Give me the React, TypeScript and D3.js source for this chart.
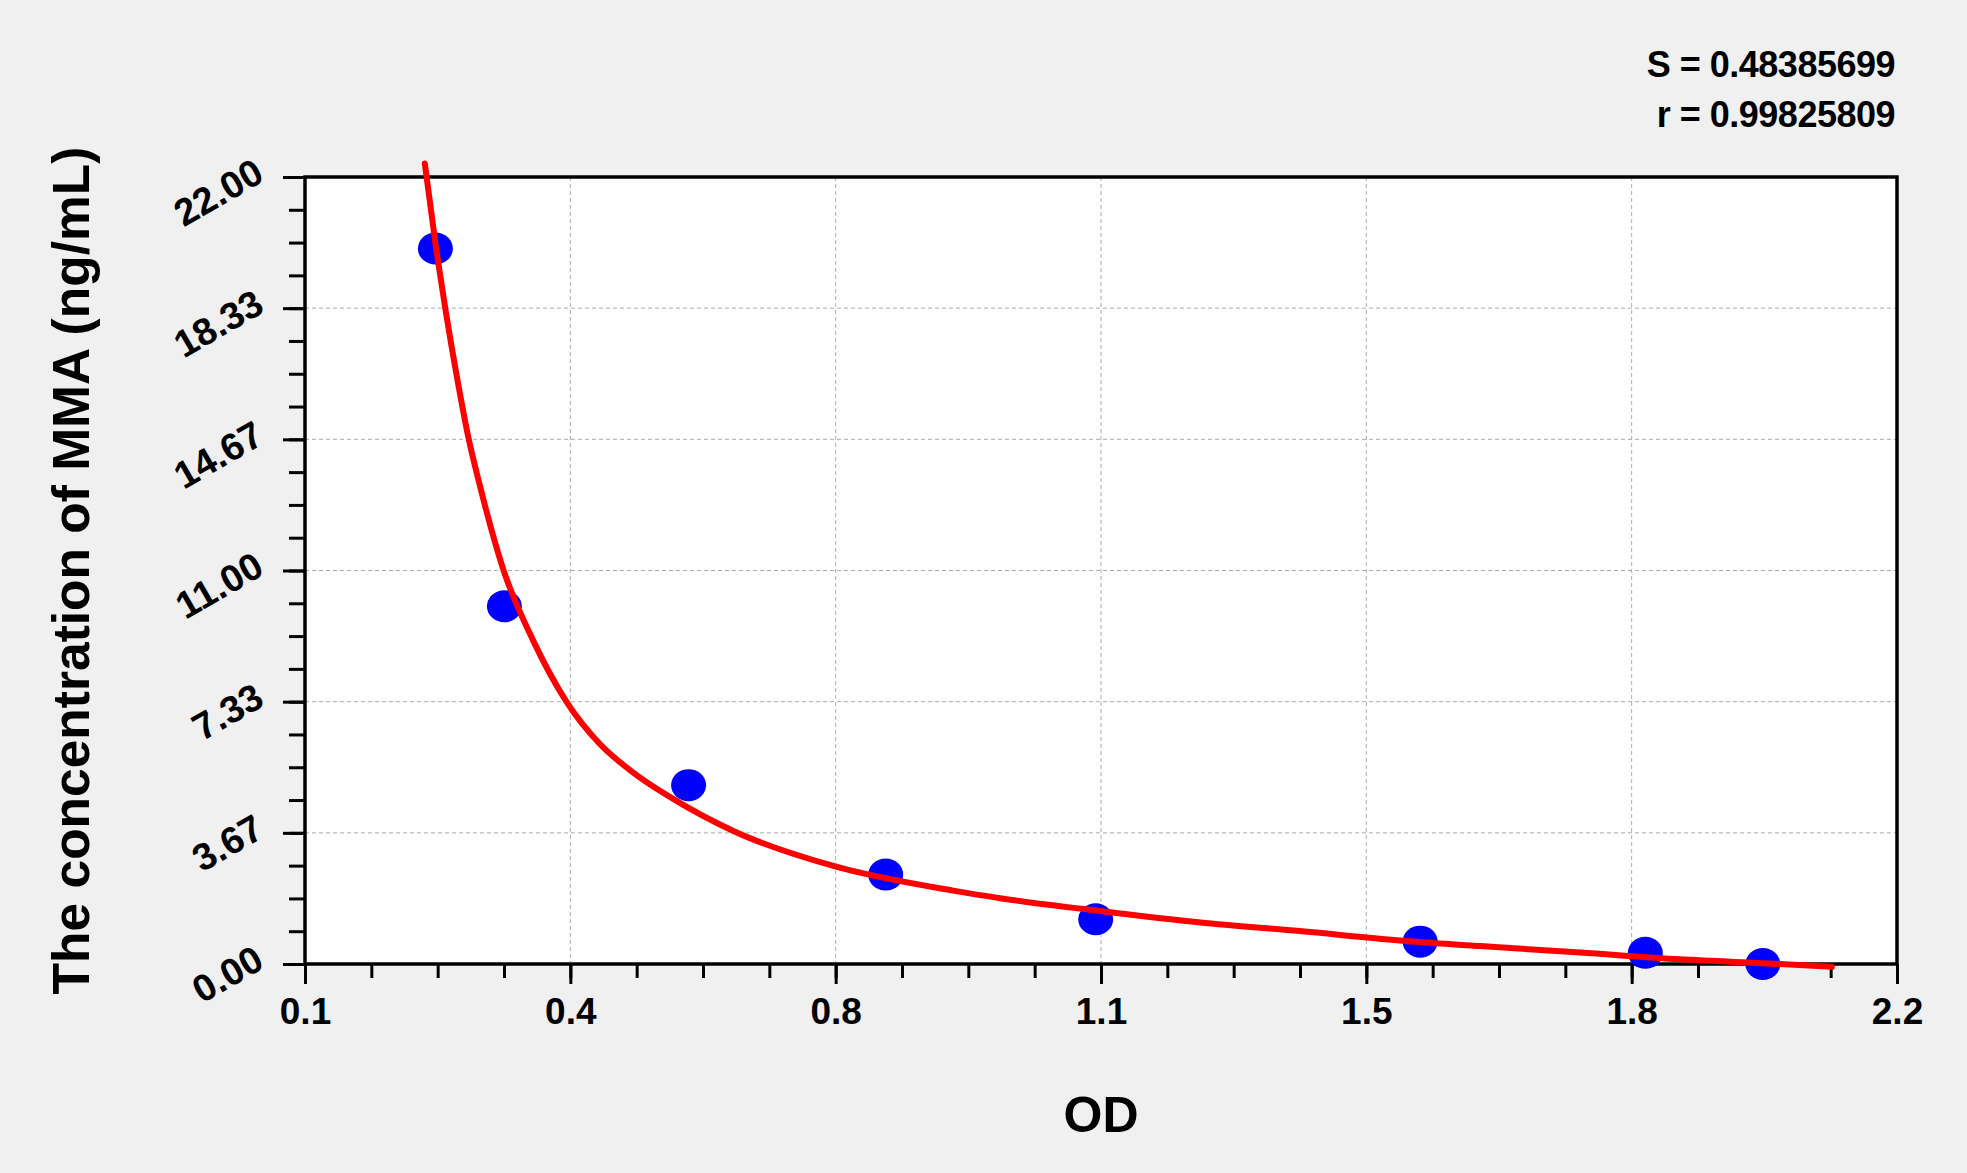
import { useEffect, useRef } from 'react';
import * as d3 from 'd3';

// Standards (OD vs concentration)
const odValues = [0.272, 0.363, 0.606, 0.866, 1.143, 1.571, 1.868, 2.023];
const concentrations = [20, 10, 5, 2.5, 1.25, 0.625, 0.312, 0];

// Fitted curve
const curveOd = [0.258, 0.273, 0.285, 0.302, 0.316, 0.33, 0.362, 0.401, 0.445, 0.489, 0.533, 0.59, 0.665, 0.797, 0.955, 1.017, 1.149, 1.281, 1.412, 1.544, 1.65, 1.782, 1.914, 2.046, 2.114];
const curveConc = [22.38, 20.0, 18.33, 16.22, 14.67, 13.43, 11.0, 9.04, 7.33, 6.15, 5.35, 4.56, 3.72, 2.74, 2.05, 1.84, 1.48, 1.16, 0.92, 0.66, 0.5, 0.32, 0.13, 0.0, -0.08];

// Ticks
const xTickValues = [0.1, 0.45, 0.8, 1.15, 1.5, 1.85, 2.2];
const xTickLabels = ['0.1', '0.4', '0.8', '1.1', '1.5', '1.8', '2.2'];
const yTickValues = [0, 22 / 6, 44 / 6, 11, 88 / 6, 110 / 6, 22];
const yTickLabels = ['0.00', '3.67', '7.33', '11.00', '14.67', '18.33', '22.00'];

const statLines = ['S = 0.48385699', 'r = 0.99825809'];

const W = 1967;
const H = 1173;
const FONT = '"Liberation Sans", Arial, sans-serif';

export default function App() {
    const svgRef = useRef<SVGSVGElement>(null);

    useEffect(() => {
        if (!svgRef.current) return;
        document.body.style.margin = '0';
        const svg = d3.select(svgRef.current);
        svg.selectAll('*').remove();

        const left = 305, right = 1897, top = 177, bottom = 964;

        const x = d3.scaleLinear().domain([0.1, 2.2]).range([left, right]);
        const y = d3.scaleLinear().domain([0, 22]).range([bottom, top]);

        svg.append('rect').attr('width', W).attr('height', H).attr('fill', '#f0f0f0');
        svg.append('rect')
            .attr('x', left).attr('y', top)
            .attr('width', right - left).attr('height', bottom - top)
            .attr('fill', 'white');

        // dashed grid at inner major ticks
        const grid = svg.append('g')
            .attr('stroke', '#acacac').attr('stroke-width', 1).attr('stroke-dasharray', '4,3');
        xTickValues.slice(1, -1).forEach(v => {
            grid.append('line').attr('x1', x(v)).attr('x2', x(v)).attr('y1', top).attr('y2', bottom);
        });
        yTickValues.slice(1, -1).forEach(v => {
            grid.append('line').attr('x1', left).attr('x2', right).attr('y1', y(v)).attr('y2', y(v));
        });

        // minor ticks
        const xMinor = d3.range(0, 25).map(i => 0.1 + i * 0.0875);
        const yMinor = d3.range(0, 25).map(i => i * 22 / 24);

        const xMinorAxis = svg.append('g')
            .attr('transform', `translate(0,${bottom})`)
            .call(d3.axisBottom(x).tickValues(xMinor).tickSize(14).tickFormat(() => ''));
        const xMajorAxis = svg.append('g')
            .attr('transform', `translate(0,${bottom})`)
            .call(d3.axisBottom(x).tickValues(xTickValues).tickSize(20).tickPadding(14)
                .tickFormat((_d, i) => xTickLabels[i]));
        const yMinorAxis = svg.append('g')
            .attr('transform', `translate(${left},0)`)
            .call(d3.axisLeft(y).tickValues(yMinor).tickSize(16).tickFormat(() => ''));
        const yMajorAxis = svg.append('g')
            .attr('transform', `translate(${left},0)`)
            .call(d3.axisLeft(y).tickValues(yTickValues).tickSize(22).tickFormat(() => ''));

        [xMinorAxis, xMajorAxis, yMinorAxis, yMajorAxis].forEach(a => {
            a.select('.domain').remove();
            a.selectAll('line').attr('stroke', 'black').attr('stroke-width', 3);
        });
        xMajorAxis.selectAll('text')
            .attr('fill', 'black')
            .style('font-family', FONT)
            .style('font-weight', 'bold')
            .style('font-size', '37px');

        // rotated y labels
        const lx = 266;
        svg.append('g').selectAll('text')
            .data(yTickValues)
            .enter()
            .append('text')
            .attr('x', lx)
            .attr('y', d => y(d) + 3)
            .attr('transform', d => `rotate(-30, ${lx}, ${y(d) + 3})`)
            .attr('text-anchor', 'end')
            .attr('fill', 'black')
            .style('font-family', FONT)
            .style('font-weight', 'bold')
            .style('font-size', '38px')
            .text((_d, i) => yTickLabels[i]);

        // frame
        svg.append('rect')
            .attr('x', left).attr('y', top)
            .attr('width', right - left).attr('height', bottom - top)
            .attr('fill', 'none').attr('stroke', 'black').attr('stroke-width', 3.5);

        // standard points
        svg.append('g').selectAll('ellipse')
            .data(odValues)
            .enter()
            .append('ellipse')
            .attr('cx', d => x(d))
            .attr('cy', (_d, i) => y(concentrations[i]))
            .attr('rx', 17.5)
            .attr('ry', 16)
            .attr('fill', '#0000ff');

        // fitted curve
        const line = d3.line<number>()
            .x(d => x(d))
            .y((_d, i) => y(curveConc[i]))
            .curve(d3.curveMonotoneX);
        svg.append('path')
            .attr('d', line(curveOd))
            .attr('fill', 'none')
            .attr('stroke', '#ff0000')
            .attr('stroke-width', 6)
            .attr('stroke-linecap', 'round');

        // axis titles
        svg.append('text')
            .attr('x', (left + right) / 2)
            .attr('y', 1132)
            .attr('text-anchor', 'middle')
            .style('font-family', FONT)
            .style('font-weight', 'bold')
            .style('font-size', '50px')
            .text('OD');

        svg.append('text')
            .attr('transform', `translate(89,${(top + bottom) / 2}) rotate(-90)`)
            .attr('text-anchor', 'middle')
            .style('font-family', FONT)
            .style('font-weight', 'bold')
            .style('font-size', '51.5px')
            .text('The concentration of MMA (ng/mL)');

        // fit statistics
        svg.append('g').selectAll('text')
            .data(statLines)
            .enter()
            .append('text')
            .attr('x', 1895)
            .attr('y', (_d, i) => 77 + i * 50)
            .attr('text-anchor', 'end')
            .style('font-family', FONT)
            .style('font-weight', 'bold')
            .style('font-size', '36px')
            .style('letter-spacing', '-0.5px')
            .text(d => d);
    }, []);

    return (
        <svg ref={svgRef} width={W} height={H} style={{ display: 'block' }} />
    );
}
